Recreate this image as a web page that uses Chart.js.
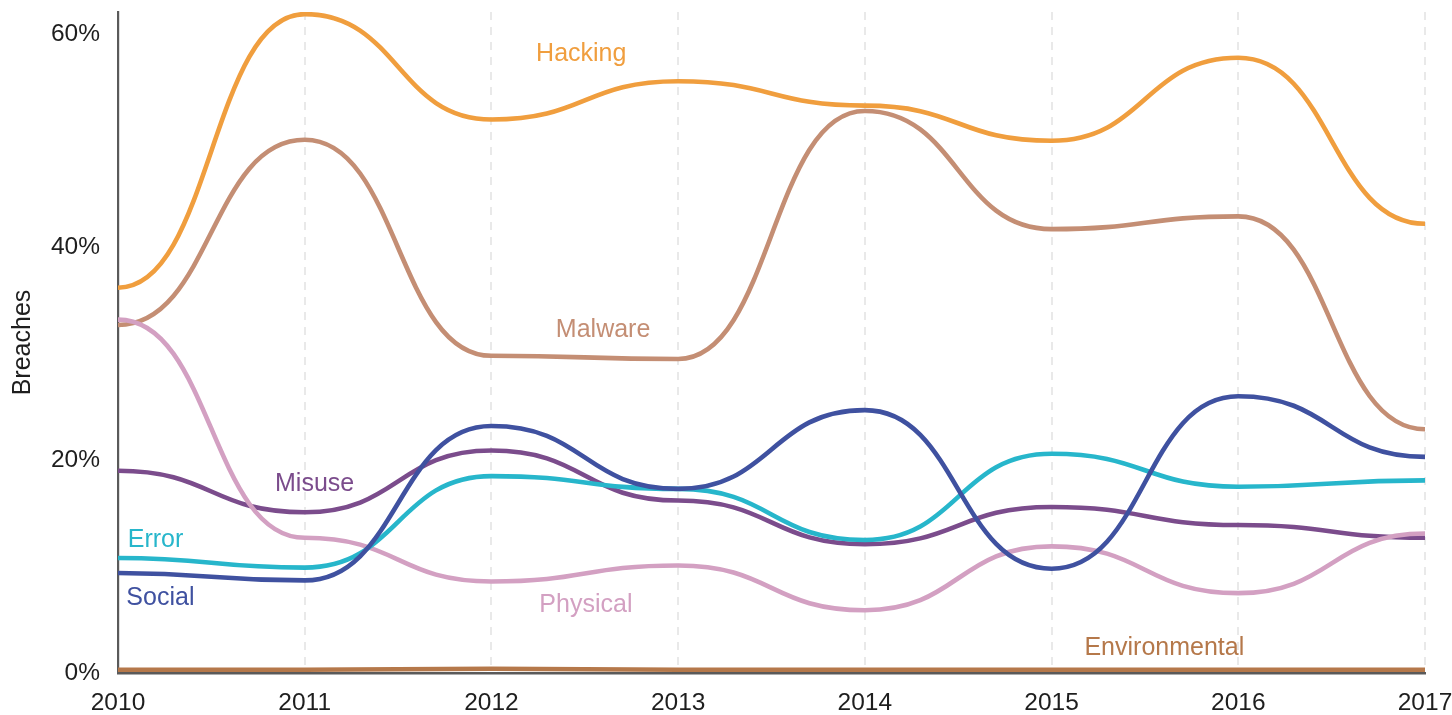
<!DOCTYPE html>
<html>
<head>
<meta charset="utf-8">
<script src="https://cdn.jsdelivr.net/npm/chart.js@4/dist/chart.umd.min.js"></script>
<style>
  html, body { margin: 0; padding: 0; background: #fff; }
  #wrap { width: 1452px; height: 715px; position: relative; }
</style>
</head>
<body>
<div id="wrap"><canvas id="breachChart"></canvas></div>
<script>
// Données (% des brèches par année)
const years = ['2010', '2011', '2012', '2013', '2014', '2015', '2016', '2017'];
const hacking = [36.2, 61.9, 52.0, 55.6, 53.3, 50.0, 57.8, 42.2];
const malware = [32.7, 50.1, 29.8, 29.5, 52.8, 41.7, 42.9, 22.9];
const social = [9.4, 8.7, 23.2, 17.3, 24.7, 9.8, 26.0, 20.3];
const error = [10.8, 9.9, 18.5, 17.3, 12.5, 20.6, 17.5, 18.1];
const misuse = [19.0, 15.1, 20.9, 16.2, 12.1, 15.6, 13.9, 12.7];
const physical = [33.2, 12.7, 8.6, 10.1, 5.9, 11.9, 7.5, 13.1];
const environmental = [0.3, 0.3, 0.4, 0.3, 0.3, 0.3, 0.3, 0.3];
const yTicks = [0, 20, 40, 60];

// Etiquettes posées dans le graphique : [index année, valeur]
const seriesLabels = ['Social', 'Error', 'Physical', 'Misuse', 'Hacking', 'Malware', 'Environmental'];
const labelSpots = [[0.227, 7.0], [0.201, 12.5], [2.506, 6.4], [1.053, 17.7], [2.481, 58.1], [2.598, 32.2], [5.604, 2.3]];
const seriesColors = ['#3f51a0', '#27b6cb', '#d3a0c2', '#7b4c8c', '#f09e3e', '#c48e74', '#b5784a'];
const seriesData = [social, error, physical, misuse, hacking, malware, environmental];

const FONT = "'Liberation Sans', Arial, sans-serif";

// Courbe "bump" : tangente horizontale sur chaque point
const bumpCurve = {
  id: 'bumpCurve',
  beforeDatasetDraw(chart, args) {
    const pts = args.meta.data;
    pts.forEach((p, i) => {
      const prev = pts[i - 1];
      const next = pts[i + 1];
      p.cp1x = prev ? (prev.x + p.x) / 2 : p.x;
      p.cp1y = p.y;
      p.cp2x = next ? (p.x + next.x) / 2 : p.x;
      p.cp2y = p.y;
    });
    args.meta.dataset._pointsUpdated = true;
  }
};

const inlineLabels = {
  id: 'inlineLabels',
  afterDatasetsDraw(chart) {
    const ctx = chart.ctx;
    const xs = chart.scales.x;
    const ys = chart.scales.y;
    ctx.save();
    ctx.font = '25px ' + FONT;
    ctx.textAlign = 'center';
    ctx.textBaseline = 'middle';
    seriesLabels.forEach((name, i) => {
      const spot = labelSpots[i];
      ctx.fillStyle = seriesColors[i];
      ctx.fillText(name, xs.getPixelForValue(spot[0]), ys.getPixelForValue(spot[1]));
    });
    ctx.restore();
  }
};

const ctx = document.getElementById('breachChart').getContext('2d');
new Chart(ctx, {
  type: 'line',
  data: {
    labels: years,
    datasets: seriesLabels.map((name, i) => ({
      label: name,
      data: seriesData[i],
      borderColor: seriesColors[i],
      backgroundColor: seriesColors[i],
      borderWidth: 4.6,
      pointRadius: 0,
      tension: 0.4,
      fill: false
    }))
  },
  options: {
    responsive: true,
    maintainAspectRatio: false,
    animation: false,
    layout: { padding: { top: 12, right: 27, left: 0, bottom: 0 } },
    plugins: {
      legend: { display: false },
      tooltip: { enabled: false }
    },
    scales: {
      x: {
        grid: {
          color: 'rgba(226, 226, 226, 0.75)',
          lineWidth: 2,
          drawTicks: false
        },
        border: { color: '#5a5a5a', width: 2.5, dash: [8, 7] },
        ticks: {
          autoSkip: false,
          maxRotation: 0,
          padding: 16,
          color: '#1e1e1e',
          font: { family: FONT, size: 24.5 }
        },
        afterFit: s => {
          s.height = 42;
          s.paddingLeft = 0;
          s.paddingRight = 0;
        }
      },
      y: {
        min: 0,
        max: 62.1,
        grid: { display: false, drawTicks: false },
        border: { color: '#5a5a5a', width: 2.2 },
        afterBuildTicks: s => { s.ticks = yTicks.map(v => ({ value: v })); },
        ticks: {
          padding: 18,
          color: '#1e1e1e',
          font: { family: FONT, size: 24.5 },
          callback: v => v + '%'
        },
        title: {
          display: true,
          text: 'Breaches',
          color: '#1e1e1e',
          font: { family: FONT, size: 25 },
          padding: { top: 8, bottom: 0 }
        },
        afterFit: s => {
          s.width = 118;
          s.paddingTop = 0;
          s.paddingBottom = 0;
        }
      }
    }
  },
  plugins: [bumpCurve, inlineLabels]
});
</script>
</body>
</html>
